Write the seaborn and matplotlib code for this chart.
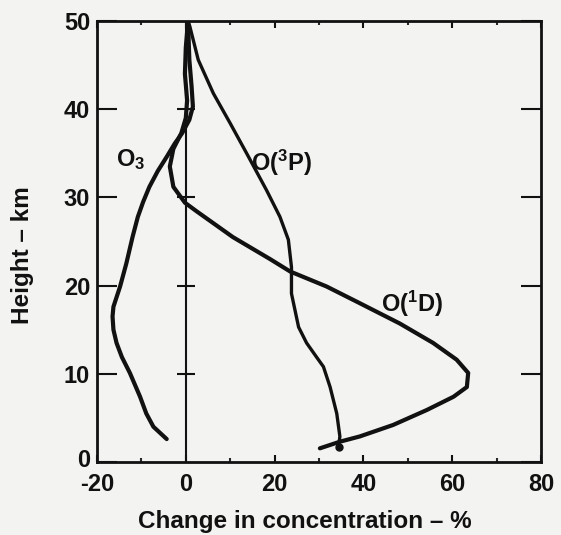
import matplotlib
matplotlib.use('Agg')
import matplotlib.pyplot as plt
import matplotlib.transforms as mtransforms
import seaborn as sns
import pandas as pd

# Height (km) and change in concentration (%)
o3_height = [2.6, 4.0, 5.5, 7.4, 10.1, 11.9, 13.5, 15.0, 16.5, 17.6, 19.9, 22.5,
             25.5, 27.8, 29.5, 31.2, 33.0, 34.6, 36.1, 37.3, 38.8, 40.3, 42.6, 45.6, 50.0]
o3_change = [-4.3, -7.3, -8.9, -10.3, -12.6, -14.4, -15.6, -16.3, -16.5, -16.3, -14.8, -13.4,
             -12.0, -10.8, -9.6, -8.2, -6.3, -4.3, -2.5, -0.8, 0.8, 1.6, 1.3, 0.8, 0.5]

o1d_height = [1.55, 2.3, 2.9, 4.2, 5.9, 7.4, 8.5, 10.1, 11.6, 13.5, 15.7, 18.0, 19.9,
              21.6, 23.0, 25.5, 28.4, 29.4, 31.2, 33.5, 35.5, 37.3, 39.0, 41.0, 44.0, 47.0, 50.0]
o1d_change = [30.2, 34.7, 39.2, 46.7, 54.3, 60.3, 63.3, 63.6, 61.0, 55.7, 48.2, 39.2, 31.7,
              23.5, 19.0, 10.6, 2.5, -0.2, -2.8, -3.6, -2.8, -1.0, 0.0, 0.3, -0.2, 0.0, 0.5]

o3p_height = [1.7, 2.9, 5.5, 8.5, 10.8, 12.0, 13.5, 15.3, 19.1, 22.1, 25.2, 27.8, 30.8,
              35.0, 38.4, 41.8, 45.6, 49.4, 50.0]
o3p_change = [34.4, 34.7, 34.0, 32.5, 31.0, 29.3, 27.2, 25.4, 23.8, 23.8, 23.1, 21.2, 18.2,
              13.7, 10.0, 6.2, 2.8, 0.9, 0.5]

x_ticks = [-20, 0, 20, 40, 60, 80]
y_ticks = [0, 10, 20, 30, 40, 50]
zero_marks = [10, 20, 30, 40]

sns.set_theme(style='ticks')
plt.rcParams['font.family'] = ['Liberation Sans', 'DejaVu Sans']
plt.rcParams['mathtext.default'] = 'regular'
plt.rcParams['axes.unicode_minus'] = False

bg = '#f3f3f1'
ink = '#111111'

fig = plt.figure(figsize=(5.61, 5.35), dpi=100, facecolor=bg)
ax = fig.add_axes([97 / 561, 1 - 462 / 535, 444 / 561, 441 / 535])
ax.set_facecolor(bg)

curves = [
    (o3_change, o3_height, 3.0),
    (o1d_change, o1d_height, 3.0),
    (o3p_change, o3p_height, 2.4),
]
for xs, ys, lw in curves:
    df = pd.DataFrame({'change': xs, 'height': ys})
    sns.lineplot(data=df, x='change', y='height', sort=False, estimator=None,
                 color=ink, lw=lw, ax=ax, solid_capstyle='round')

# end dot of the O(3P) curve
ax.plot([o3p_change[0]], [o3p_height[0]], 'o', color=ink, ms=5)

# zero line with its cross marks
ax.axvline(0, color=ink, lw=1.5)
ax.plot([0] * len(zero_marks), zero_marks, linestyle='none', marker='_',
        color=ink, ms=13, mew=1.5)

ax.set_xlim(-20, 80)
ax.set_ylim(0, 50)
ax.set_xticks(x_ticks)
ax.set_xticklabels([str(t) for t in x_ticks])
ax.set_xticks([-10, 10, 30, 50, 70], minor=True)
ax.set_yticks(y_ticks)
ax.set_yticklabels([str(t) for t in y_ticks])

ax.tick_params(axis='x', which='major', direction='in', length=5, width=1.5,
               top=True, bottom=True, labelsize=17, pad=8, colors=ink)
ax.tick_params(axis='x', which='minor', direction='in', length=2.6, width=1.5,
               top=True, bottom=True)
ax.tick_params(axis='y', which='major', direction='in', length=14.5, width=1.5,
               left=True, right=True, labelsize=17, pad=5, colors=ink)
for lab in ax.get_xticklabels() + ax.get_yticklabels():
    lab.set_fontweight('bold')

# the "0" on the height axis sits a little above the corner
lab0 = ax.get_yticklabels()[0]
lab0.set_transform(lab0.get_transform()
                   + mtransforms.ScaledTranslation(0, 3 / 72, fig.dpi_scale_trans))

for sp in ax.spines.values():
    sp.set_linewidth(2.0)
    sp.set_color(ink)
    sp.set_visible(True)

ax.set_xlabel('Change in concentration – %', fontsize=17.5, fontweight='bold', color=ink)
ax.set_ylabel('Height – km', fontsize=17.5, fontweight='bold', color=ink)
ax.xaxis.set_label_coords((305 - 97) / 444, -(510 - 462) / 441)
ax.yaxis.set_label_coords(-(97 - 34) / 444, (462 - 255) / 441)

ax.text(-15.8, 33.6, 'O$_3$', fontsize=17, fontweight='bold', color=ink,
        ha='left', va='baseline')
ax.text(14.6, 33.0, 'O($^3$P)', fontsize=17, fontweight='bold', color=ink,
        ha='left', va='baseline')
ax.text(44.0, 17.0, 'O($^1$D)', fontsize=17, fontweight='bold', color=ink,
        ha='left', va='baseline')

fig.savefig('out.png', dpi=100, facecolor=bg)
